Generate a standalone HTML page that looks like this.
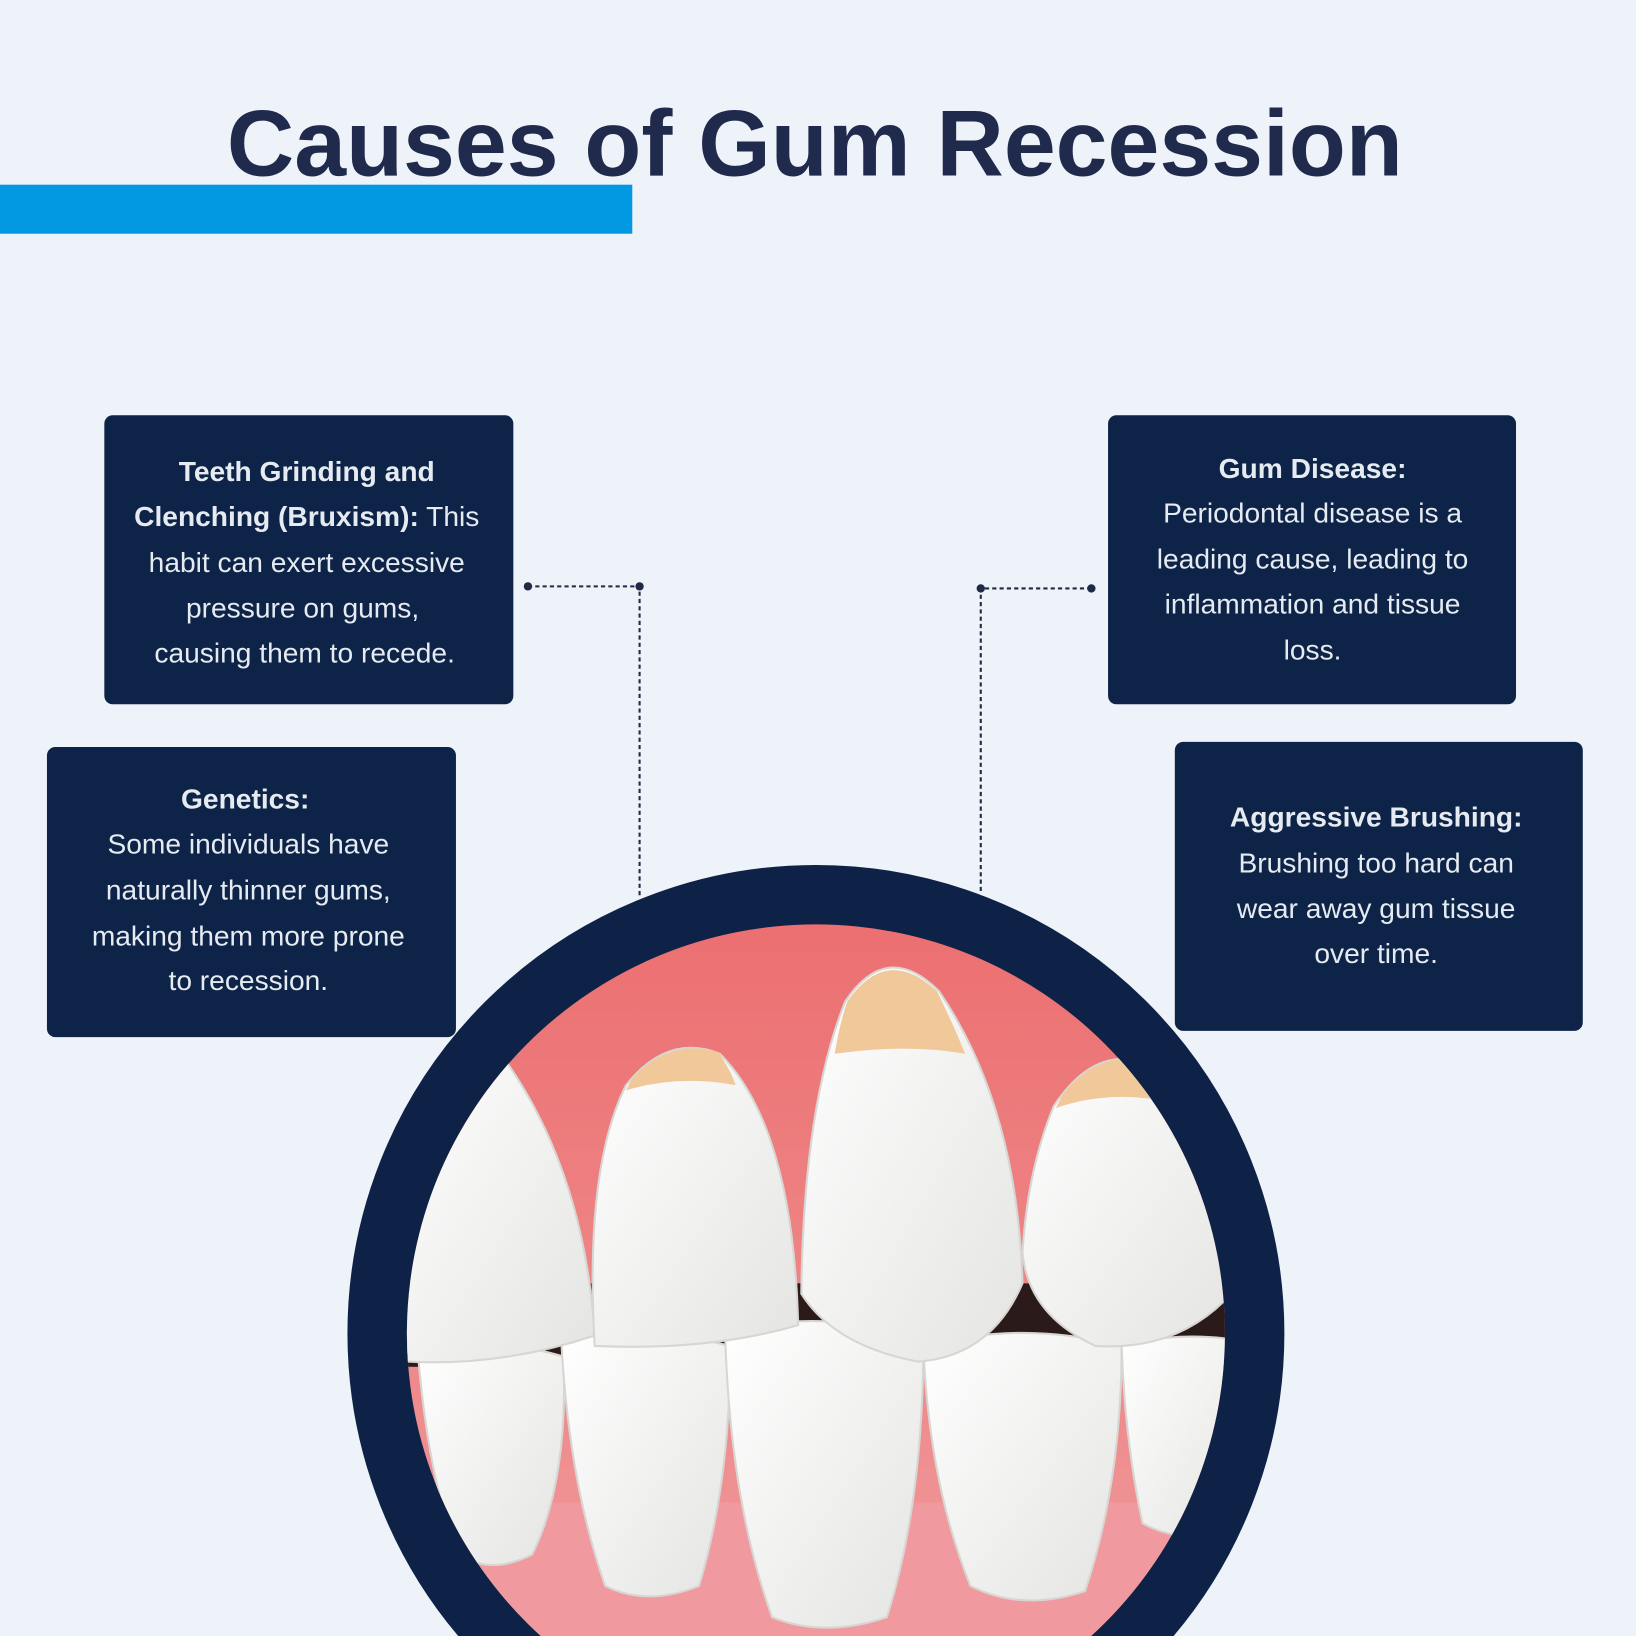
<!DOCTYPE html>
<html><head><meta charset="utf-8"><style>
html,body{margin:0;padding:0;background:#eef2f9;width:1636px;height:1636px;overflow:hidden}
svg{display:block}
.t{font-family:"Liberation Sans",sans-serif;font-size:27px;fill:#e6eaf1;text-anchor:middle}
.b{font-weight:bold}
</style></head><body>
<svg width="1636" height="1636" viewBox="0 0 1568 1568" xmlns="http://www.w3.org/2000/svg">
<defs>
<clipPath id="c"><circle cx="782" cy="1278" r="392"/></clipPath>
<clipPath id="pg"><rect width="1568" height="1568"/></clipPath>
<linearGradient id="tw" x1="0" y1="0" x2="1" y2="1"><stop offset="0" stop-color="#ffffff"/><stop offset="1" stop-color="#e4e4e2"/></linearGradient>
<linearGradient id="gum" x1="0" y1="0" x2="0" y2="1"><stop offset="0" stop-color="#ec6f70"/><stop offset="1" stop-color="#f09a9c"/></linearGradient>
</defs>
<g clip-path="url(#pg)">
<rect width="1568" height="1568" fill="#eef2f9"/>
<text x="781" y="168" font-family="Liberation Sans,sans-serif" font-weight="bold" font-size="90" fill="#1f2a4c" text-anchor="middle" textLength="1127" lengthAdjust="spacingAndGlyphs">Causes of Gum Recession</text>
<rect x="0" y="177" width="606" height="47" fill="#0399e2"/>

<g stroke="#1f2a44" stroke-width="2" stroke-dasharray="4 3" fill="none">
<path d="M506 562 H613 V858"/>
<path d="M1046 564 H940 V855"/>
</g>
<g fill="#1f2a44"><circle cx="506" cy="562" r="4"/><circle cx="613" cy="562" r="4"/><circle cx="1046" cy="564" r="4"/><circle cx="940" cy="564" r="4"/></g>

<g fill="#0d2347">
<rect x="100" y="398" width="392" height="277" rx="8"/>
<rect x="45" y="716" width="392" height="278" rx="8"/>
<rect x="1062" y="398" width="391" height="277" rx="8"/>
<rect x="1126" y="711" width="391" height="277" rx="8"/>
</g>
<text class="t b" x="294" y="461">Teeth Grinding and</text>
<text class="t" x="294" y="504"><tspan class="b">Clenching (Bruxism):</tspan> This</text>
<text class="t" x="294" y="548">habit can exert excessive</text>
<text class="t" x="290" y="592">pressure on gums,</text>
<text class="t" x="292" y="635">causing them to recede.</text>

<text class="t b" x="235" y="775">Genetics:</text>
<text class="t" x="238" y="818">Some individuals have</text>
<text class="t" x="238" y="862">naturally thinner gums,</text>
<text class="t" x="238" y="906">making them more prone</text>
<text class="t" x="238" y="949">to recession.</text>

<text class="t b" x="1258" y="458">Gum Disease:</text>
<text class="t" x="1258" y="501">Periodontal disease is a</text>
<text class="t" x="1258" y="545">leading cause, leading to</text>
<text class="t" x="1258" y="588">inflammation and tissue</text>
<text class="t" x="1258" y="632">loss.</text>

<text class="t b" x="1319" y="792">Aggressive Brushing:</text>
<text class="t" x="1319" y="836">Brushing too hard can</text>
<text class="t" x="1319" y="880">wear away gum tissue</text>
<text class="t" x="1319" y="923">over time.</text>

<circle cx="782" cy="1278" r="420" fill="none" stroke="#0e2247" stroke-width="58"/>
<g clip-path="url(#c)">
<rect x="380" y="880" width="810" height="700" fill="url(#gum)"/>
<rect x="380" y="1230" width="810" height="80" fill="#2a1a1a"/>
<rect x="380" y="1440" width="810" height="140" fill="#f09aa0"/>
<g fill="url(#tw)" stroke="#d8d6d2" stroke-width="2">
<path d="M400 1290 Q470 1280 540 1300 Q545 1420 510 1490 Q470 1510 440 1490 Q410 1420 400 1290Z"/>
<path d="M538 1285 Q620 1270 700 1290 Q700 1420 670 1520 Q620 1540 580 1520 Q545 1420 538 1285Z"/>
<path d="M695 1280 Q780 1250 885 1285 Q885 1440 850 1550 Q790 1570 740 1550 Q700 1440 695 1280Z"/>
<path d="M885 1290 Q980 1265 1075 1290 Q1075 1420 1040 1525 Q980 1545 930 1520 Q890 1420 885 1290Z"/>
<path d="M1075 1290 Q1130 1275 1190 1285 L1190 1470 Q1130 1480 1095 1460 Q1078 1380 1075 1290Z"/>
</g>
<g fill="url(#tw)" stroke="#d8d6d2" stroke-width="2">
<path d="M380 1020 Q440 990 480 1010 Q560 1120 570 1280 Q480 1310 390 1305Z"/>
<path d="M600 1040 Q640 990 690 1010 Q760 1080 765 1270 Q680 1295 570 1290 Q560 1120 600 1040Z"/>
<path d="M810 960 Q850 900 900 950 Q975 1060 980 1230 Q950 1300 880 1305 Q800 1290 768 1240 Q770 1060 810 960Z"/>
<path d="M1010 1060 Q1050 1000 1100 1020 Q1170 1080 1180 1240 Q1130 1295 1050 1290 Q985 1260 980 1200 Q985 1120 1010 1060Z"/>
</g>
<g fill="#f0c89a">
<path d="M812 960 Q850 905 898 950 Q915 985 925 1010 Q870 1000 800 1010 Q805 980 812 960Z"/>
<path d="M605 1035 Q640 995 688 1008 Q700 1025 705 1040 Q650 1030 600 1045Z"/>
<path d="M1018 1050 Q1055 1003 1100 1020 Q1110 1040 1115 1055 Q1060 1045 1012 1062Z"/>
</g>
</g>
</g>
</svg>
</body></html>
